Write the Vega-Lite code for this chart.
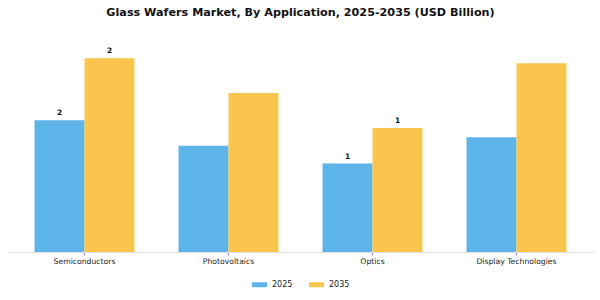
{
  "$schema": "https://vega.github.io/schema/vega-lite/v6.json",
  "autosize": {"type": "none"},
  "width": 587,
  "height": 221,
  "padding": {"left": 7, "top": 31, "right": 6, "bottom": 48},
  "background": "white",
  "config": {
    "font": "DejaVu Sans",
    "view": {"stroke": null}
  },
  "title": {
    "text": "Glass Wafers Market, By Application, 2025-2035 (USD Billion)",
    "fontSize": 11.2,
    "fontWeight": "bold",
    "color": "#111111",
    "anchor": "middle",
    "offset": 13
  },
  "data": {
    "values": [
      {"Application": "Semiconductors", "Year": "2025", "Value": 1.55},
      {"Application": "Semiconductors", "Year": "2035", "Value": 2.28},
      {"Application": "Photovoltaics", "Year": "2025", "Value": 1.25},
      {"Application": "Photovoltaics", "Year": "2035", "Value": 1.87},
      {"Application": "Optics", "Year": "2025", "Value": 1.04},
      {"Application": "Optics", "Year": "2035", "Value": 1.46},
      {"Application": "Display Technologies", "Year": "2025", "Value": 1.35},
      {"Application": "Display Technologies", "Year": "2035", "Value": 2.22}
    ]
  },
  "encoding": {
    "x": {
      "field": "Application",
      "type": "nominal",
      "sort": ["Semiconductors", "Photovoltaics", "Optics", "Display Technologies"],
      "scale": {"paddingInner": 0.3056, "paddingOuter": 0.191},
      "axis": {
        "title": null,
        "labelAngle": 0,
        "labelFontSize": 7.7,
        "labelColor": "#222222",
        "labelPadding": 2,
        "domainColor": "#e0e0e0",
        "domainWidth": 1,
        "tickColor": "#888888",
        "tickSize": 3,
        "grid": false
      }
    },
    "xOffset": {"field": "Year", "type": "nominal"},
    "y": {
      "field": "Value",
      "type": "quantitative",
      "scale": {"domain": [0, 2.6], "nice": false},
      "axis": null
    }
  },
  "layer": [
    {
      "mark": {"type": "bar"},
      "encoding": {
        "color": {
          "field": "Year",
          "type": "nominal",
          "scale": {"domain": ["2025", "2035"], "range": ["#5DB4E8", "#F9C54C"]},
          "legend": {
            "title": null,
            "orient": "none",
            "legendX": 245,
            "legendY": 246,
            "direction": "horizontal",
            "symbolType": "M-1,-0.33H1V0.33H-1Z",
            "symbolSize": 225,
            "symbolStrokeWidth": 0,
            "labelFontSize": 8,
            "labelColor": "#222222",
            "labelOffset": 5,
            "columnPadding": 16
          }
        }
      }
    },
    {
      "transform": [{"filter": {"field": "Application", "oneOf": ["Semiconductors", "Optics"]}}],
      "mark": {"type": "text", "dy": -7, "fontSize": 7.5, "fontWeight": "bold", "color": "#111111"},
      "encoding": {
        "text": {"field": "Value", "type": "quantitative", "format": ".0f"}
      }
    }
  ]
}
